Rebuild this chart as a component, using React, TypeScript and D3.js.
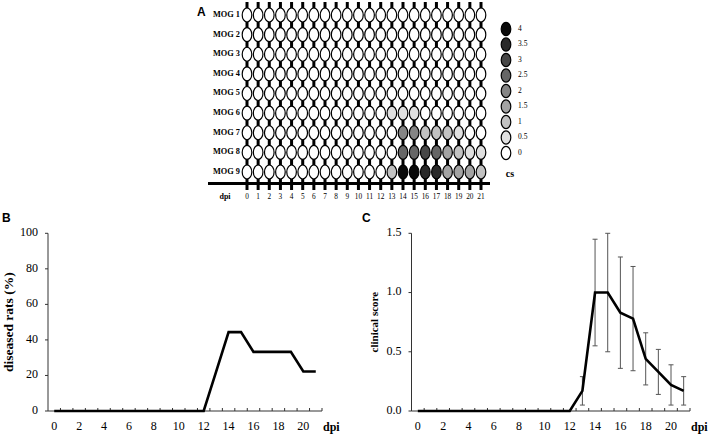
import * as d3 from 'd3'

const W = 709
const H = 437

// panel A: clinical score of each rat per day
const rats = ['MOG 1', 'MOG 2', 'MOG 3', 'MOG 4', 'MOG 5', 'MOG 6', 'MOG 7', 'MOG 8', 'MOG 9']
const days = [0, 1, 2, 3, 4, 5, 6, 7, 8, 9, 10, 11, 12, 13, 14, 15, 16, 17, 18, 19, 20, 21]
const mog1 = [0, 0, 0, 0, 0, 0, 0, 0, 0, 0, 0, 0, 0, 0, 0, 0, 0, 0, 0, 0, 0, 0]
const mog2 = [0, 0, 0, 0, 0, 0, 0, 0, 0, 0, 0, 0, 0, 0, 0, 0, 0, 0, 0, 0, 0, 0]
const mog3 = [0, 0, 0, 0, 0, 0, 0, 0, 0, 0, 0, 0, 0, 0, 0, 0, 0, 0, 0, 0, 0, 0]
const mog4 = [0, 0, 0, 0, 0, 0, 0, 0, 0, 0, 0, 0, 0, 0, 0, 0, 0, 0, 0, 0, 0, 0]
const mog5 = [0, 0, 0, 0, 0, 0, 0, 0, 0, 0, 0, 0, 0, 0, 0, 0, 0, 0, 0, 0, 0, 0]
const mog6 = [0, 0, 0, 0, 0, 0, 0, 0, 0, 0, 0, 0, 0, 0.5, 0.5, 0.5, 0, 0, 0, 0, 0, 0]
const mog7 = [0, 0, 0, 0, 0, 0, 0, 0, 0, 0, 0, 0, 0, 0, 2, 2, 1, 1, 1, 0.5, 0, 0]
const mog8 = [0, 0, 0, 0, 0, 0, 0, 0, 0, 0, 0, 0, 0, 0, 2.5, 2.5, 3, 2.5, 1.5, 1, 0.5, 0.5]
const mog9 = [0, 0, 0, 0, 0, 0, 0, 0, 0, 0, 0, 0, 0, 1, 4, 4, 3.5, 3.5, 1.5, 1.5, 1.5, 1]
const scores = [mog1, mog2, mog3, mog4, mog5, mog6, mog7, mog8, mog9]
const legendValues = [4, 3.5, 3, 2.5, 2, 1.5, 1, 0.5, 0]

// panel B: diseased rats (%)
const diseased = [0, 0, 0, 0, 0, 0, 0, 0, 0, 0, 0, 0, 0, 22.2, 44.4, 44.4, 33.3, 33.3, 33.3, 33.3, 22.2, 22.2]
const pctTicks = [0, 20, 40, 60, 80, 100]

// panel C: mean clinical score with error
const meanScore = [0, 0, 0, 0, 0, 0, 0, 0, 0, 0, 0, 0, 0, 0.17, 1.0, 1.0, 0.83, 0.78, 0.44, 0.33, 0.22, 0.17]
const errScore = [0, 0, 0, 0, 0, 0, 0, 0, 0, 0, 0, 0, 0, 0.12, 0.45, 0.5, 0.47, 0.44, 0.22, 0.19, 0.17, 0.12]
const scoreTicks = [0, 0.5, 1.0, 1.5]
const dayLabels = [0, 2, 4, 6, 8, 10, 12, 14, 16, 18, 20]

const SERIF = '"Liberation Serif", "DejaVu Serif", serif'
const SANS = '"Liberation Sans", Arial, sans-serif'

const grey = d3.scaleLinear<string>().domain([0, 4]).range(['#ffffff', '#0a0a0a'])

const PanelA = () => {
  const x = d3.scaleLinear().domain([0, 21]).range([247, 481])
  const y = d3.scalePoint<string>().domain(rats).range([15, 172])
  const ly = d3.scalePoint<string>().domain(legendValues.map(String)).range([29, 153])
  const axisY = 183.5

  return (
    <g>
      <text x={197} y={16} fontFamily={SANS} fontWeight="bold" fontSize={12}>A</text>
      {days.map((d) => (
        <line key={d} x1={x(d)} x2={x(d)} y1={2} y2={190} stroke="#000" strokeWidth={3} />
      ))}
      <line x1={208} x2={490} y1={axisY} y2={axisY} stroke="#000" strokeWidth={3} />
      {rats.map((r, i) => (
        <g key={r}>
          <text x={240} y={y(r)} textAnchor="end" dominantBaseline="middle"
            fontFamily={SERIF} fontWeight="bold" fontSize={8.3}>{r}</text>
          {days.map((d) => (
            <ellipse key={d} cx={x(d)} cy={y(r)} rx={4.8} ry={7}
              fill={grey(scores[i][d])} stroke="#000" strokeWidth={1.2} />
          ))}
        </g>
      ))}
      <text x={225} y={197.5} textAnchor="middle" dominantBaseline="middle"
        fontFamily={SERIF} fontWeight="bold" fontSize={8}>dpi</text>
      {days.map((d) => (
        <text key={d} x={x(d)} y={197.5} textAnchor="middle" dominantBaseline="middle"
          fontFamily={SERIF} fontSize={7.3}>{d}</text>
      ))}
      {legendValues.map((v) => (
        <g key={v}>
          <ellipse cx={506} cy={ly(String(v))} rx={4.8} ry={6.6}
            fill={grey(v)} stroke="#000" strokeWidth={1.2} />
          <text x={518} y={ly(String(v))} dominantBaseline="middle"
            fontFamily={SERIF} fontSize={7.5}>{v}</text>
        </g>
      ))}
      <text x={510} y={175} fontFamily={SERIF} fontWeight="bold" fontSize={10}
        textAnchor="middle" dominantBaseline="middle">cs</text>
    </g>
  )
}

type LineProps = {
  left: number
  right: number
  letter: string
  letterX: number
  yLabel: string
  yLabelX: number
  yLabelSize: number
  values: number[]
  errors?: number[]
  yMax: number
  yTicks: number[]
  fmt: (v: number) => string
}

const LinePanel = ({ left, right, letter, letterX, yLabel, yLabelX, yLabelSize, values, errors, yMax, yTicks, fmt }: LineProps) => {
  const top = 233.3
  const bottom = 411
  const x = d3.scaleLinear().domain([-0.5, 21.5]).range([left, right])
  const y = d3.scaleLinear().domain([0, yMax]).range([bottom, top])
  const line = d3.line<number>().x((_, i) => x(days[i])).y((v) => y(v))

  return (
    <g>
      <text x={letterX} y={222} fontFamily={SANS} fontWeight="bold" fontSize={12}>{letter}</text>
      <line x1={left} x2={left} y1={top} y2={bottom} stroke="#333" strokeWidth={1} />
      <line x1={left} x2={right} y1={bottom} y2={bottom} stroke="#333" strokeWidth={1} />
      {yTicks.map((t) => (
        <g key={t}>
          <line x1={left - 3} x2={left} y1={y(t)} y2={y(t)} stroke="#333" />
          <text x={left - 10} y={y(t)} textAnchor="end" dominantBaseline="middle"
            fontFamily={SERIF} fontSize={12}>{fmt(t)}</text>
        </g>
      ))}
      {days.map((d) => (
        <line key={d} x1={x(d + 0.5)} x2={x(d + 0.5)} y1={bottom} y2={bottom - 3} stroke="#333" />
      ))}
      {dayLabels.map((d) => (
        <text key={d} x={x(d)} y={427} textAnchor="middle" dominantBaseline="middle"
          fontFamily={SERIF} fontSize={12}>{d}</text>
      ))}
      <text x={right + 1} y={428} dominantBaseline="middle"
        fontFamily={SERIF} fontWeight="bold" fontSize={12}>dpi</text>
      <text transform={`translate(${yLabelX},${(top + bottom) / 2}) rotate(-90)`}
        textAnchor="middle" dominantBaseline="middle"
        fontFamily={SERIF} fontWeight="bold" fontSize={yLabelSize}>{yLabel}</text>
      {errors && values.map((v, i) => errors[i] > 0 && (
        <g key={i} stroke="#555" strokeWidth={1}>
          <line x1={x(days[i])} x2={x(days[i])} y1={y(v - errors[i])} y2={y(v + errors[i])} />
          <line x1={x(days[i]) - 2.5} x2={x(days[i]) + 2.5} y1={y(v - errors[i])} y2={y(v - errors[i])} />
          <line x1={x(days[i]) - 2.5} x2={x(days[i]) + 2.5} y1={y(v + errors[i])} y2={y(v + errors[i])} />
        </g>
      ))}
      <path d={line(values) ?? ''} fill="none" stroke="#000" strokeWidth={2.6} strokeLinejoin="miter" />
    </g>
  )
}

export default function App() {
  return (
    <svg width={W} height={H} style={{ position: 'absolute', left: 0, top: 0, background: '#fff' }}>
      <PanelA />
      <LinePanel left={48} right={322} letter="B" letterX={2} yLabel="diseased rats (%)" yLabelX={10}
        yLabelSize={13.5} values={diseased} yMax={100} yTicks={pctTicks} fmt={(v) => String(v)} />
      <LinePanel left={411.5} right={690} letter="C" letterX={362} yLabel="clinical score" yLabelX={375}
        yLabelSize={11} values={meanScore} errors={errScore} yMax={1.5} yTicks={scoreTicks}
        fmt={(v) => v.toFixed(1)} />
    </svg>
  )
}
